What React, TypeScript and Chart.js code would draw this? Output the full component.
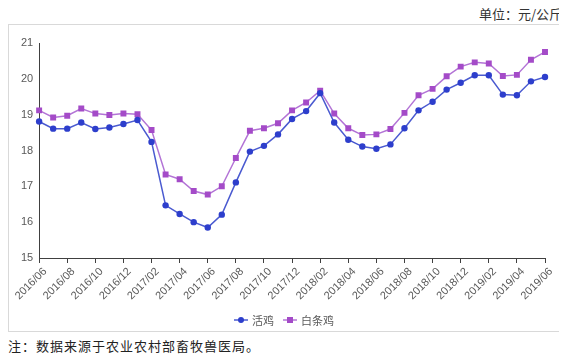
import { useEffect, useRef } from 'react';
import { Chart, registerables } from 'chart.js';

Chart.register(...registerables);

const months = [
  '2016/06', '2016/07', '2016/08', '2016/09', '2016/10', '2016/11', '2016/12',
  '2017/01', '2017/02', '2017/03', '2017/04', '2017/05', '2017/06', '2017/07',
  '2017/08', '2017/09', '2017/10', '2017/11', '2017/12',
  '2018/01', '2018/02', '2018/03', '2018/04', '2018/05', '2018/06', '2018/07',
  '2018/08', '2018/09', '2018/10', '2018/11', '2018/12',
  '2019/01', '2019/02', '2019/03', '2019/04', '2019/05', '2019/06',
];

const liveChicken = [
  18.81, 18.61, 18.61, 18.78, 18.6, 18.64, 18.74,
  18.85, 18.24, 16.47, 16.23, 16.0, 15.85, 16.21,
  17.11, 17.97, 18.13, 18.45, 18.88,
  19.1, 19.6, 18.78, 18.3, 18.11, 18.05, 18.17,
  18.62, 19.12, 19.36, 19.7, 19.89,
  20.1, 20.1, 19.56, 19.54, 19.93, 20.05,
];

const whiteStripChicken = [
  19.12, 18.92, 18.97, 19.17, 19.03, 18.99, 19.03,
  19.01, 18.57, 17.33, 17.2, 16.87, 16.77, 17.0,
  17.79, 18.55, 18.62, 18.76, 19.12,
  19.34, 19.67, 19.03, 18.62, 18.43, 18.45, 18.6,
  19.05, 19.54, 19.72, 20.07, 20.34,
  20.46, 20.43, 20.08, 20.11, 20.53, 20.75,
];

const seriesNames = ['活鸡', '白条鸡'];
const yMin = 15;
const yMax = 21;
const unitText = '单位：元/公斤';
const noteText = '注：数据来源于农业农村部畜牧兽医局。';

const legendPlugin = {
  id: 'customLegend',
  afterDraw(chart: any) {
    const ctx = chart.ctx;
    const ds = chart.data.datasets;
    ctx.save();
    ctx.font = '11px "Noto Sans CJK SC", sans-serif';
    const lineW = 14;
    const gap = 4;
    const itemGap = 9;
    const widths = ds.map((d: any) => lineW + gap + ctx.measureText(d.label).width);
    const total = widths.reduce((a: number, b: number) => a + b, 0) + itemGap * (ds.length - 1);
    let x = chart.width / 2 - total / 2;
    const y = chart.height - 11;
    ds.forEach((d: any, i: number) => {
      ctx.strokeStyle = d.borderColor;
      ctx.lineWidth = 1.5;
      ctx.beginPath();
      ctx.moveTo(x, y);
      ctx.lineTo(x + lineW, y);
      ctx.stroke();
      ctx.fillStyle = d.pointBackgroundColor;
      const cx = x + lineW / 2;
      if (d.pointStyle === 'rect') {
        ctx.fillRect(cx - 3, y - 3, 6, 6);
      } else {
        ctx.beginPath();
        ctx.arc(cx, y, 3, 0, Math.PI * 2);
        ctx.fill();
      }
      ctx.fillStyle = '#595959';
      ctx.textBaseline = 'middle';
      ctx.textAlign = 'left';
      ctx.fillText(d.label, x + lineW + gap, y + 0.5);
      x += widths[i] + itemGap;
    });
    ctx.restore();
  },
};

export default function App() {
  const ref = useRef<HTMLCanvasElement>(null);

  useEffect(() => {
    if (!ref.current) return;
    const chart = new Chart(ref.current, {
      type: 'line',
      data: {
        labels: months,
        datasets: [
          {
            label: seriesNames[0],
            data: liveChicken,
            borderColor: '#4a5ad0',
            backgroundColor: '#2d3ecc',
            pointBackgroundColor: '#2d3ecc',
            pointBorderColor: '#2d3ecc',
            pointBorderWidth: 0,
            pointStyle: 'circle',
            pointRadius: 3.2,
            borderWidth: 1.5,
            tension: 0,
          },
          {
            label: seriesNames[1],
            data: whiteStripChicken,
            borderColor: '#b374d6',
            backgroundColor: '#a44bc8',
            pointBackgroundColor: '#a44bc8',
            pointBorderColor: '#a44bc8',
            pointBorderWidth: 0,
            pointStyle: 'rect',
            pointRadius: 4.2,
            borderWidth: 1.5,
            tension: 0,
          },
        ],
      },
      options: {
        animation: false,
        responsive: false,
        events: [],
        layout: { padding: { top: 18, right: 14, bottom: 23, left: 0 } },
        plugins: { legend: { display: false }, tooltip: { enabled: false } },
        scales: {
          x: {
            type: 'category',
            offset: false,
            grid: {
              display: true,
              drawOnChartArea: false,
              drawTicks: true,
              tickLength: 5,
              color: (c: any) => (c.index % 2 === 0 ? '#404040' : 'rgba(0,0,0,0)'),
            },
            border: { display: true, color: '#404040', width: 1 },
            ticks: {
              autoSkip: false,
              maxRotation: 45,
              minRotation: 45,
              padding: 2,
              labelOffset: 6,
              color: '#595959',
              font: { size: 11, family: '"Liberation Sans", Arial, sans-serif' },
              callback: function (this: any, v: any, i: number) {
                return i % 2 === 0 ? this.getLabelForValue(v) : '';
              },
            },
            afterFit: (s: any) => {
              s.height = 50;
            },
          },
          y: {
            min: yMin,
            max: yMax,
            grid: { display: false, drawTicks: false },
            border: { display: true, color: '#404040', width: 1 },
            ticks: {
              stepSize: 1,
              padding: 6,
              color: '#595959',
              font: { size: 11, family: '"Liberation Sans", Arial, sans-serif' },
            },
            afterFit: (s: any) => {
              s.width = 27;
            },
          },
        },
      },
      plugins: [legendPlugin],
    });
    return () => chart.destroy();
  }, []);

  return (
    <div style={{ width: 552, fontFamily: '"Noto Sans CJK SC", sans-serif' }}>
      <div
        style={{
          height: 16,
          lineHeight: '11px',
          fontSize: 13,
          textAlign: 'right',
          color: '#333',
          marginRight: -2,
        }}
      >
        {unitText}
      </div>
      <div style={{ width: 550, height: 306, border: '1px solid #d9d9d9' }}>
        <canvas ref={ref} width={550} height={306} style={{ display: 'block' }} />
      </div>
      <div style={{ fontSize: 13, lineHeight: '28px', letterSpacing: 1, color: '#222' }}>{noteText}</div>
    </div>
  );
}
